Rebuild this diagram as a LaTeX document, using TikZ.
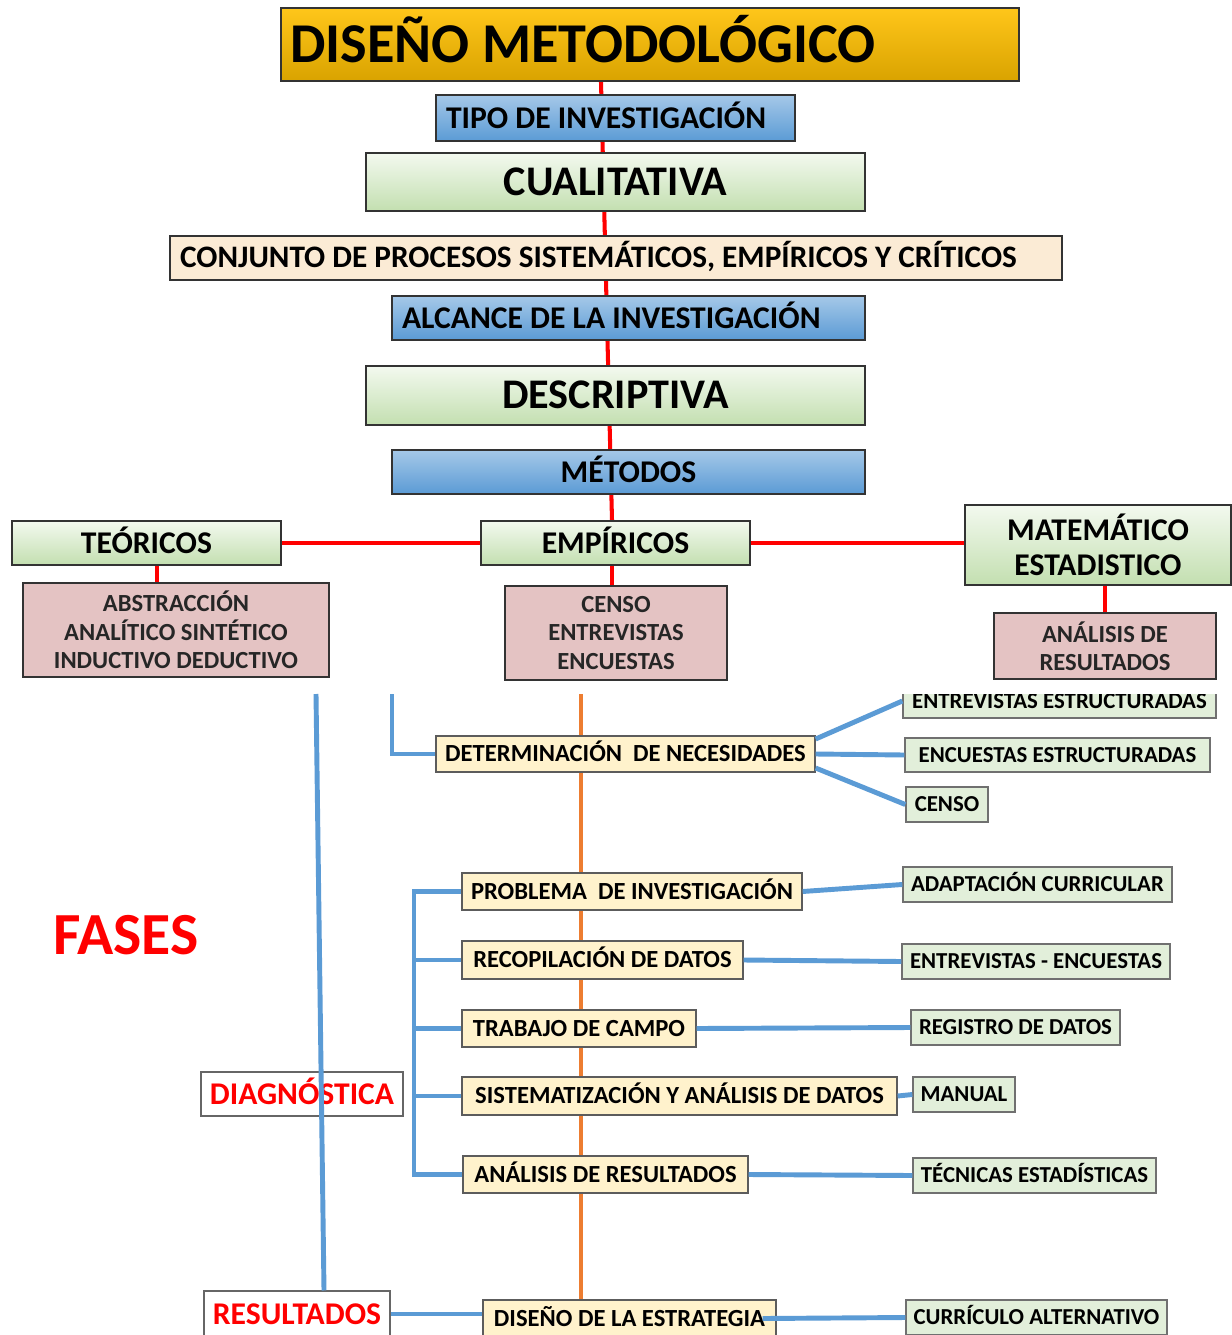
\documentclass[tikz,border=0pt]{standalone}
\usepackage{fontspec}
\setmainfont{Carlito}
\usepackage{tikz}
\usetikzlibrary{calc,backgrounds}
\definecolor{dmGold}{HTML}{FFC61A}
\definecolor{dmGoldDark}{HTML}{D9A300}
\definecolor{dmBlueTop}{HTML}{A5C8E8}
\definecolor{dmBlue}{HTML}{5B9BD5}
\definecolor{dmGreenTop}{HTML}{F3F9EF}
\definecolor{dmGreen}{HTML}{C3DFB0}
\definecolor{dmBeige}{HTML}{FBEBD5}
\definecolor{dmPink}{HTML}{E4C3C3}
\definecolor{dmYellow}{HTML}{FFF2CC}
\definecolor{dmMint}{HTML}{E2EFDA}
\definecolor{dmLine}{HTML}{5B9BD5}
\definecolor{dmOrange}{HTML}{ED7D31}
\definecolor{dmEdge}{HTML}{333333}
\tikzset{
  every picture/.append style={font=\bfseries},
  titlefont/.style={font=\bfseries\fontsize{32}{37}\selectfont,text height=20.2pt,text depth=0pt},
  bigfont/.style={font=\bfseries\fontsize{24}{28}\selectfont,text height=15.2pt,text depth=0pt},
  midfont/.style={font=\bfseries\fontsize{18}{21}\selectfont,text height=11.4pt,text depth=0pt},
  topbox/.style={rectangle,draw=dmEdge,line width=1.2pt,inner sep=0pt,align=center},
  goldbox/.style={topbox,top color=dmGold,bottom color=dmGoldDark},
  bluebox/.style={topbox,top color=dmBlueTop,bottom color=dmBlue},
  greenbox/.style={topbox,top color=dmGreenTop,bottom color=dmGreen},
  beigebox/.style={topbox,fill=dmBeige},
  pinkbox/.style={topbox,fill=dmPink,text=black!85,font=\bfseries\fontsize{14}{16.2}\selectfont},
  phasebox/.style={rectangle,draw=dmEdge!80,line width=0.8pt,fill=dmYellow,inner sep=0pt,
    font=\bfseries\fontsize{14}{16}\selectfont,text height=8.85pt,text depth=0pt},
  toolbox/.style={rectangle,draw=dmEdge!70,line width=0.8pt,fill=dmMint,inner sep=0pt,
    font=\bfseries\fontsize{13}{15}\selectfont,text height=8.2pt,text depth=0pt},
  redlabel/.style={rectangle,draw=gray!80!black,line width=0.6pt,fill=white,text=red,inner sep=0pt,
    font=\bfseries\fontsize{18}{21}\selectfont,text height=11.4pt,text depth=0pt},
  redline/.style={draw=red,line width=2.3pt},
  blueline/.style={draw=dmLine,line width=2.8pt},
  orangeline/.style={draw=dmOrange,line width=2.3pt},
}
\begin{document}
\begin{tikzpicture}[x=0.02cm,y=-0.02cm]
  \useasboundingbox (0,0) rectangle (1231,1335);
  \begin{scope}[on background layer]
    \fill[white] (0,0) rectangle (1231,1335);
  \end{scope}
  % upper column
  \node[goldbox, titlefont, minimum height=1.46cm, text width=14.4cm, inner xsep=0.18cm, align=flush left] (title) at (650,44.5) {DISEÑO METODOLÓGICO};
  \node[bluebox, midfont, minimum height=0.92cm, text width=6.78cm, inner xsep=0.2cm, align=flush left] (tipo) at (615.5,118) {TIPO DE INVESTIGACIÓN};
  \node[greenbox, bigfont, minimum width=9.98cm, minimum height=1.16cm] (cualitativa) at (615.5,182) {CUALITATIVA};
  \node[beigebox, font=\bfseries\fontsize{17.8}{21}\selectfont, text height=11.3pt, text depth=0pt, minimum height=0.88cm, text width=17.44cm, inner xsep=0.2cm, align=flush left] (conjunto) at (616,258) {CONJUNTO DE PROCESOS SISTEMÁTICOS, EMPÍRICOS Y CRÍTICOS};
  \node[bluebox, midfont, minimum height=0.88cm, text width=9.06cm, inner xsep=0.2cm, align=flush left] (alcance) at (628.5,318) {ALCANCE DE LA INVESTIGACIÓN};
  \node[greenbox, bigfont, minimum width=9.98cm, minimum height=1.18cm] (descriptiva) at (615.5,395.5) {DESCRIPTIVA};
  \node[bluebox, midfont, minimum width=9.46cm, minimum height=0.88cm] (metodos) at (628.5,472) {MÉTODOS};
  % methods row
  \node[greenbox, midfont, minimum width=5.38cm, minimum height=0.88cm] (teoricos) at (146.5,543) {TEÓRICOS};
  \node[greenbox, midfont, minimum width=5.38cm, minimum height=0.88cm] (empiricos) at (615.5,543) {EMPÍRICOS};
  \node[greenbox, font=\bfseries\fontsize{18}{19.8}\selectfont, minimum width=5.32cm, minimum height=1.6cm] (matest) at (1098,545) {MATEMÁTICO\\ESTADISTICO};
  \node[pinkbox, minimum width=6.12cm, minimum height=1.88cm] (abstraccion) at (176,630) {ABSTRACCIÓN\\ANALÍTICO SINTÉTICO\\INDUCTIVO DEDUCTIVO};
  \node[pinkbox, minimum width=4.44cm, minimum height=1.88cm] (censo) at (616,633) {CENSO\\ENTREVISTAS\\ENCUESTAS};
  \node[pinkbox, minimum width=4.44cm, minimum height=1.32cm] (analisis) at (1105,646) {ANÁLISIS DE\\RESULTADOS};
  \coordinate (spineA) at (601,0);
  \coordinate (spineB) at (612,0);
  \coordinate (teoX) at (157,0);
  \begin{scope}[on background layer]
    \draw[redline] (title.south -| spineA) -- (empiricos.north -| spineB);
    \draw[redline] (teoricos.east) -- (empiricos.west);
    \draw[redline] (empiricos.east) -- (matest.west |- empiricos.east);
    \draw[redline] (teoricos.south -| teoX) -- (abstraccion.north -| teoX);
    \draw[redline] (empiricos.south -| spineB) -- (censo.north -| spineB);
    \draw[redline] (analisis.north) -- (analisis.north |- matest.south);
  \end{scope}
  % phases
  \node[phasebox, minimum width=7.58cm, minimum height=0.72cm] (necesidades) at (625.5,754) {DETERMINACIÓN\ \ DE NECESIDADES};
  \begin{scope}
    \clip (0,694) rectangle (1231,1335);
    \node[toolbox, minimum width=6.26cm, minimum height=0.68cm] (entrevistasE) at (1059.5,701) {ENTREVISTAS ESTRUCTURADAS};
  \end{scope}
  \node[toolbox, minimum width=6.1cm, minimum height=0.68cm] (encuestasE) at (1057.5,755) {ENCUESTAS ESTRUCTURADAS};
  \node[toolbox, minimum width=1.64cm, minimum height=0.7cm] (censoT) at (947,804.5) {CENSO};
  \node[phasebox, minimum width=6.8cm, minimum height=0.74cm] (problema) at (632,891.5) {PROBLEMA\ \ DE INVESTIGACIÓN};
  \node[phasebox, minimum width=5.62cm, minimum height=0.76cm] (recopilacion) at (602.5,960) {RECOPILACIÓN DE DATOS};
  \node[phasebox, minimum width=4.68cm, minimum height=0.74cm] (trabajo) at (579,1028.5) {TRABAJO DE CAMPO};
  \node[phasebox, minimum width=8.7cm, minimum height=0.76cm] (sistematizacion) at (679.5,1096) {SISTEMATIZACIÓN Y ANÁLISIS DE DATOS};
  \node[phasebox, minimum width=5.7cm, minimum height=0.74cm] (resultadosF) at (605.5,1174.5) {ANÁLISIS DE RESULTADOS};
  \node[phasebox, minimum width=5.86cm, minimum height=0.74cm] (estrategia) at (629.5,1318.5) {DISEÑO DE LA ESTRATEGIA};
  \node[toolbox, minimum width=5.38cm, minimum height=0.7cm] (adaptacion) at (1037.5,884.5) {ADAPTACIÓN CURRICULAR};
  \node[toolbox, minimum width=5.36cm, minimum height=0.7cm] (entrEnc) at (1036,961.5) {ENTREVISTAS - ENCUESTAS};
  \node[toolbox, minimum width=4.18cm, minimum height=0.7cm] (registro) at (1015.5,1027.5) {REGISTRO DE DATOS};
  \node[toolbox, minimum width=2.04cm, minimum height=0.7cm] (manual) at (964,1094.5) {MANUAL};
  \node[toolbox, minimum width=4.86cm, minimum height=0.7cm] (tecnicas) at (1034.5,1175.5) {TÉCNICAS ESTADÍSTICAS};
  \node[toolbox, minimum width=5.22cm, minimum height=0.7cm] (curriculo) at (1036.5,1317.5) {CURRÍCULO ALTERNATIVO};
  % left labels
  \node[text=red, font=\bfseries\fontsize{34}{40}\selectfont] (fases) at (126,935) {FASES};
  \node[redlabel, minimum width=4.04cm, minimum height=0.88cm] (diagnostica) at (302,1094) {DIAGNÓSTICA};
  \node[redlabel, minimum width=3.72cm, minimum height=0.92cm] (resultados) at (297,1314) {RESULTADOS};
  \coordinate (orangeTop) at (581,694);
  \coordinate (faseTop) at (316,694);
  \coordinate (necTop) at (392,694);
  \coordinate (resX) at (324,0);
  \coordinate (brX) at (414,0);
  \begin{scope}[on background layer]
    \draw[orangeline] (orangeTop) -- (orangeTop |- estrategia.north);
  \end{scope}
  \draw[blueline] (necTop) |- (necesidades.west);
  \draw[blueline] ($(necesidades.east)+(0,-15)$) -- (entrevistasE.west);
  \draw[blueline] (necesidades.east) -- (encuestasE.west);
  \draw[blueline] ($(necesidades.east)+(0,14)$) -- (censoT.west);
  \draw[blueline] (problema.west) -- (problema.west -| brX) -- (resultadosF.west -| brX) -- (resultadosF.west);
  \foreach \n in {recopilacion,trabajo,sistematizacion}
    \draw[blueline] (\n.west) -- (\n.west -| brX);
  \draw[blueline] (problema.east) -- (adaptacion.west);
  \draw[blueline] (recopilacion.east) -- (entrEnc.west);
  \draw[blueline] (trabajo.east) -- (registro.west);
  \draw[blueline] (sistematizacion.east) -- (manual.west);
  \draw[blueline] (resultadosF.east) -- (tecnicas.west);
  \draw[blueline] (resultados.east) -- (estrategia.west |- resultados.east);
  \draw[blueline] ($(estrategia.east)+(-14,0)$) -- (curriculo.west);
  \draw[blueline] (faseTop) -- (resultados.north -| resX);
\end{tikzpicture}
\end{document}
